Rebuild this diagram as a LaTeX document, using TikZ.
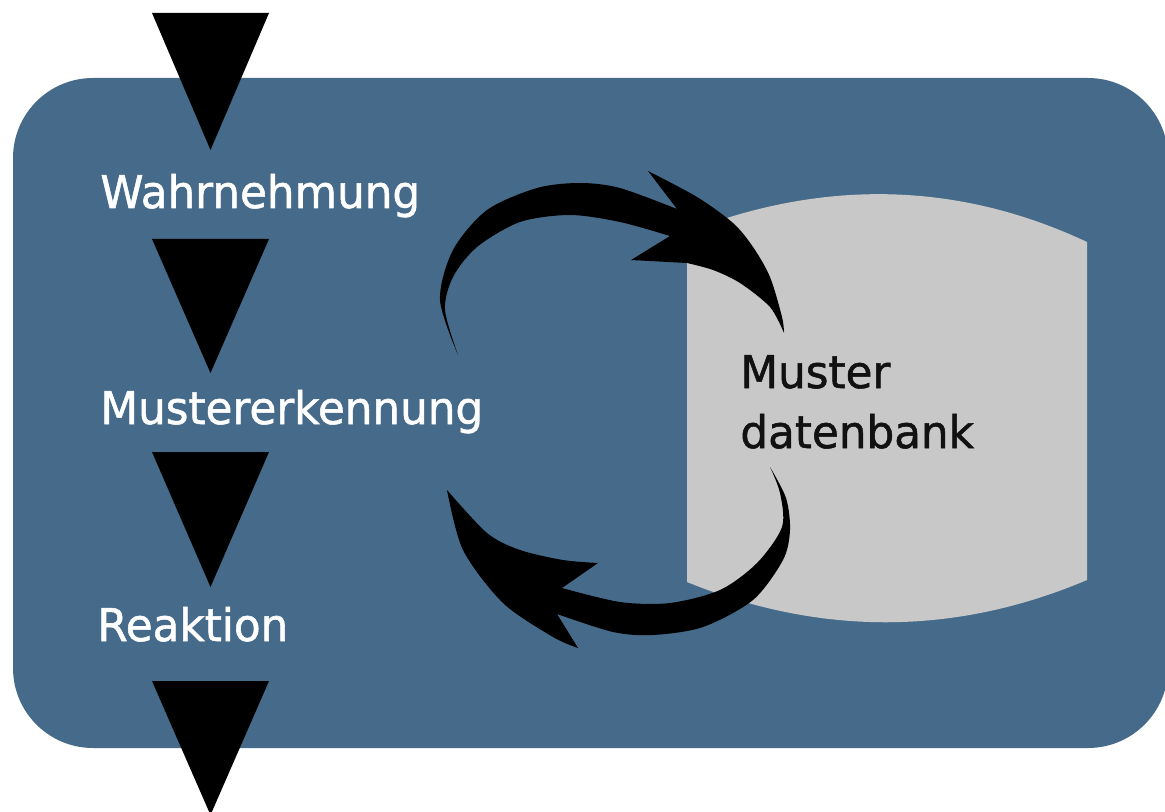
\documentclass[tikz,border=0pt]{standalone}
\usepackage{fontspec}
\newfontfamily\labfont[FakeStretch=0.97,FakeBold=1.2]{DejaVu Sans}
\definecolor{boxblue}{RGB}{70,107,138}
\definecolor{dbgray}{RGB}{200,200,200}
\definecolor{dbtext}{RGB}{17,17,17}
\tikzset{
  steplabel/.style={anchor=base west, inner sep=0pt, text=white, font=\labfont\fontsize{22.5pt}{27pt}\selectfont},
  dblabel/.style={anchor=base west, inner sep=0pt, text=dbtext, font=\labfont\fontsize{22.5pt}{27pt}\selectfont},
  flowtri/.style={fill=black},
}
\begin{document}
\begin{tikzpicture}[x=0.5pt,y=-0.5pt]
\useasboundingbox (0,0) rectangle (1165,812);
\clip (0,0) rectangle (1165,812);
% blue panel
\fill[boxblue, rounded corners=40pt] (13,78) rectangle (1168,748);
% database shape
\fill[dbgray] (687,232) .. controls (820,180) and (955,180) .. (1087,242)
  -- (1087,580) .. controls (955,636) and (820,636) .. (687,582) -- cycle;
% triangles
\fill[flowtri] (152,13) -- (269,13) -- (210.5,150) -- cycle;
\fill[flowtri] (152,239) -- (269,239) -- (210.5,373) -- cycle;
\fill[flowtri] (152,452) -- (269,452) -- (210.5,587) -- cycle;
\fill[flowtri] (152,681) -- (269,681) -- (210.5,815) -- cycle;
% labels
\node[steplabel] (wahr) at (100,208) {Wahrnehmung};
\node[steplabel] (muster) at (100,424) {Mustererkennung};
\node[steplabel] (reak) at (97,641) {Reaktion};
\node[dblabel] (db1) at (740,388) {Muster};
\node[dblabel] (db2) at (740,448) {datenbank};
% top curved arrow
\fill[black] plot[smooth] coordinates {(458,355) (440,300) (453,250) (487,210) (537,188) (580,183) (620,188) (677,209)}
  -- (648,171)
  -- plot[smooth] coordinates {(648,171) (697,197) (733,223) (753,247) (770,277) (782,317) (784,333)}
  -- plot[smooth] coordinates {(784,333) (770,307) (740,283) (713,270) (687,263)}
  -- (631,260) -- (670,236)
  -- plot[smooth] coordinates {(670,236) (620,222) (570,215) (520,222) (477,247) (453,277) (445,310) (458,355)}
  -- cycle;
% bottom curved arrow
\fill[black] plot[smooth] coordinates {(770,467) (786,498) (790,530) (783,560) (753,600) (703,627) (653,635) (613,632) (557,614)}
  -- (578,648)
  -- plot[smooth] coordinates {(578,648) (553,637) (503,603) (463,550) (447,490)}
  -- plot[smooth] coordinates {(447,490) (487,533) (520,550) (563,560) (598,563)}
  -- (562,588)
  -- plot[smooth] coordinates {(562,588) (620,602) (670,603) (720,590) (757,563) (782,527) (780,493) (770,467)}
  -- cycle;
\end{tikzpicture}
\end{document}
